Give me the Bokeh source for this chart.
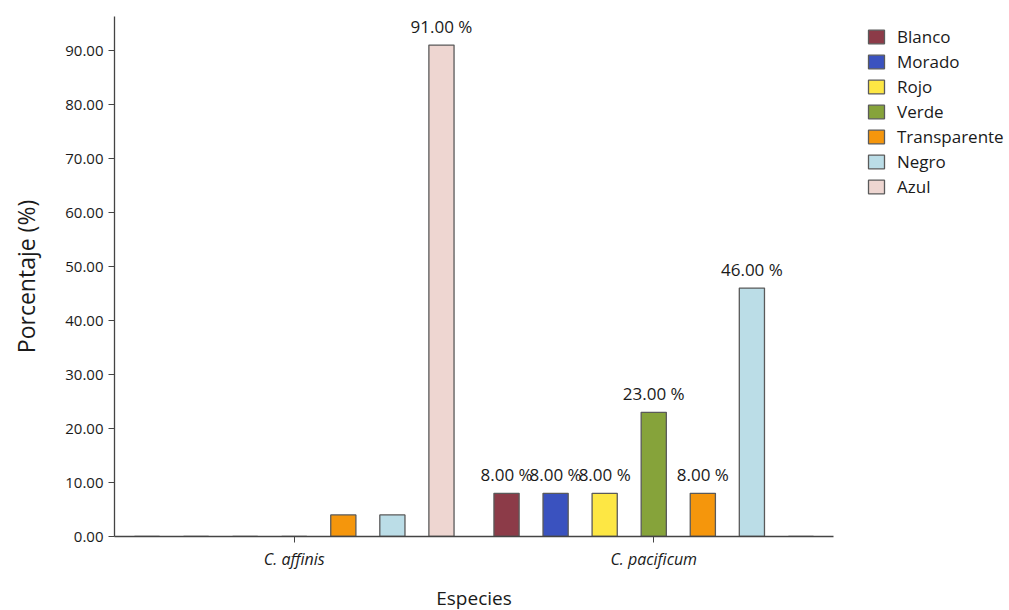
from bokeh.plotting import figure
from bokeh.models import (ColumnDataSource, Legend, LegendItem, FactorRange,
                          Range1d, NumeralTickFormatter, FixedTicker)
from bokeh.transform import dodge
from bokeh.core.properties import value
from bokeh.embed import file_html
from bokeh.resources import INLINE

# Data
especies = ["C. affinis", "C. pacificum"]
colores = ["Blanco", "Morado", "Rojo", "Verde", "Transparente", "Negro", "Azul"]
c_affinis = [0, 0, 0, 0, 4, 4, 91]
c_pacificum = [8, 8, 8, 23, 8, 46, 0]
# which bars carry a value label
etiqueta_affinis = [False, False, False, False, False, False, True]
etiqueta_pacificum = [True, True, True, True, True, True, False]

rellenos = ["#8C3B48", "#3A52BF", "#FDE744", "#86A33A", "#F5960C", "#BBDDE7", "#EED6D1"]
FONT = "Open Sans"
TXT = "#1a1a1a"

p = figure(x_range=FactorRange(*especies, range_padding=0),
           y_range=Range1d(0, 96.3),
           frame_width=719, frame_height=520,
           output_backend="svg", toolbar_location=None,
           min_border_left=114, min_border_right=176, min_border_top=16,
           min_border_bottom=74)

paso = 0.1365
ancho = 0.07
items = []
for i, nombre in enumerate(colores):
    off = (i - 3) * paso
    vals = [c_affinis[i], c_pacificum[i]]
    src = ColumnDataSource(dict(x=especies, top=vals))
    r = p.vbar(x=dodge("x", off, range=p.x_range), top="top", width=ancho,
               source=src, fill_color=rellenos[i], line_color="#5a5a5a",
               line_width=1.3)
    items.append(LegendItem(label=nombre, renderers=[r]))

    show = [etiqueta_affinis[i], etiqueta_pacificum[i]]
    lx = [e for e, s in zip(especies, show) if s]
    ly = [v for v, s in zip(vals, show) if s]
    lt = ["%.2f %%" % v for v in ly]
    lsrc = ColumnDataSource(dict(x=lx, y=ly, t=lt))
    p.text(x=dodge("x", off, range=p.x_range), y="y", text="t", source=lsrc,
           text_align="center", text_baseline="bottom", y_offset=-7,
           text_font=value(FONT), text_font_size="17px", text_color=TXT)

legend = Legend(items=items, location=(33, 338), margin=0, padding=0,
                spacing=2, glyph_width=20, glyph_height=17, label_standoff=11,
                label_text_font=FONT, label_text_font_size="17px",
                label_text_color=TXT, border_line_alpha=0,
                background_fill_alpha=0)
p.add_layout(legend, "right")

p.outline_line_color = None
p.xgrid.visible = False
p.ygrid.visible = False

p.yaxis.ticker = FixedTicker(ticks=list(range(0, 100, 10)))
p.yaxis.formatter = NumeralTickFormatter(format="0.00")
p.yaxis.axis_label = "Porcentaje (%)"
p.xaxis.axis_label = "Especies"
for ax in (p.xaxis, p.yaxis):
    ax.axis_line_color = "#444444"
    ax.axis_line_width = 1.3
    ax.major_tick_line_color = "#444444"
    ax.major_tick_in = 0
    ax.major_tick_out = 6
    ax.minor_tick_line_color = None
    ax.major_label_text_font = FONT
    ax.major_label_text_font_size = "15px"
    ax.major_label_text_color = TXT
    ax.axis_label_text_font = FONT
    ax.axis_label_text_font_style = "normal"
    ax.axis_label_text_color = TXT
p.xaxis.major_label_text_font_style = "italic"
p.xaxis.major_label_text_font_size = "16px"
p.yaxis.axis_label_text_font_size = "23px"
p.xaxis.axis_label_text_font_size = "19px"
p.xaxis.axis_label_standoff = 12
p.yaxis.axis_label_standoff = 20

open("out.html", "w").write(file_html(p, INLINE))
